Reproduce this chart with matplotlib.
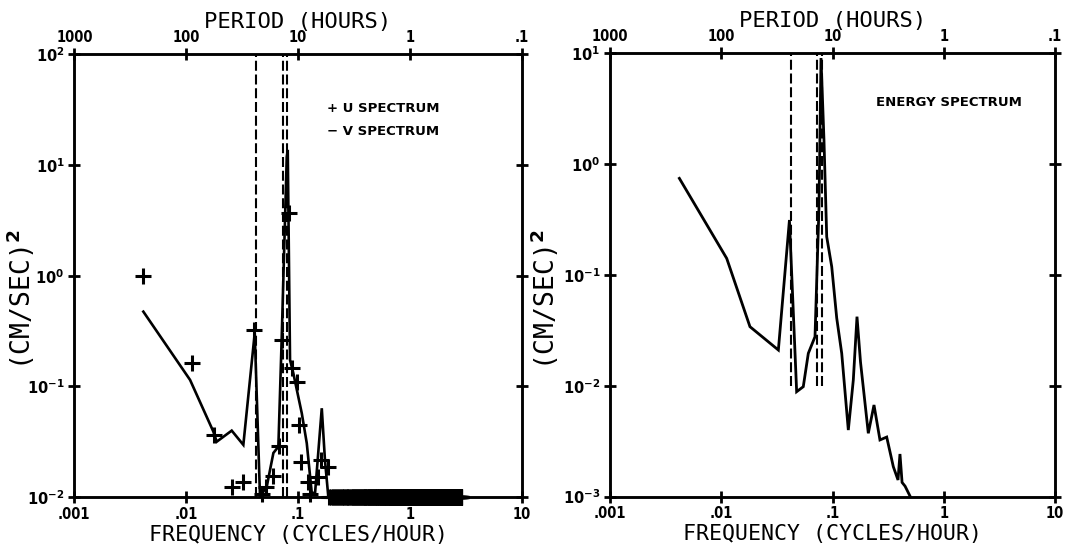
import numpy as np
import matplotlib
matplotlib.use('Agg')
import matplotlib.pyplot as plt
from matplotlib.ticker import NullLocator, FixedLocator, FixedFormatter, FuncFormatter

# ---------------- data ----------------
# Left panel: V spectrum (solid line), frequency in cycles/hour, value in (cm/s)^2
v_freq = [0.00414, 0.01083, 0.01749, 0.01875, 0.02553, 0.03243, 0.0410, 0.0457,
          0.0525, 0.0602, 0.0667, 0.0715, 0.0793, 0.0809, 0.0848, 0.0908, 0.108,
          0.1197, 0.1326, 0.142, 0.163, 0.174, 0.1866, 2.87]
v_spec = [0.473, 0.1143, 0.039, 0.0316, 0.0398, 0.0296, 0.303, 0.0101,
          0.0124, 0.025, 0.0285, 0.281, 11.9, 13.7, 0.173, 0.131, 0.0571,
          0.0306, 0.0109, 0.0109, 0.0634, 0.0216, 0.0100, 0.0100]

# Left panel: U spectrum (plus markers)
u_freq = [0.00414, 0.0112, 0.01785, 0.02553, 0.0320, 0.0405, 0.0480, 0.0514,
          0.0594, 0.0681, 0.0715, 0.0830, 0.0890, 0.0973, 0.1028, 0.1064,
          0.1236, 0.1280, 0.1520, 0.1606, 0.1866]
u_spec = [1.0, 0.162, 0.0364, 0.01227, 0.01377, 0.3234, 0.0107, 0.01227,
          0.0155, 0.029, 0.262, 3.66, 0.146, 0.110, 0.0448, 0.0209,
          0.01377, 0.0107, 0.0153, 0.0216, 0.0188]
# U spectrum estimates sitting on the plot floor (1e-2), uniform frequency grid
u_floor_start, u_floor_stop, u_floor_step = 0.19, 2.88, 0.007
u_floor_level = 0.01

# Right panel: energy spectrum
e_freq = [0.00420, 0.01119, 0.01811, 0.0326, 0.0410, 0.0476, 0.0546, 0.0606,
          0.0696, 0.0756, 0.0788, 0.0838, 0.0887, 0.0984, 0.1091, 0.1210,
          0.1387, 0.1538, 0.166, 0.1785, 0.2098, 0.236, 0.267, 0.307, 0.352,
          0.388, 0.404, 0.422, 0.449, 0.502]
e_spec = [0.744, 0.141, 0.0341, 0.0210, 0.313, 0.00883, 0.0098, 0.0196,
          0.0277, 0.413, 9.07, 1.65, 0.221, 0.1186, 0.0408, 0.0196,
          0.00398, 0.01125, 0.0420, 0.01636, 0.00372, 0.0067, 0.00324, 0.00344,
          0.00186, 0.00141, 0.00242, 0.00134, 0.00124, 0.00099]

# Tidal / inertial reference frequencies (dashed lines)
ref_freq = [0.0421, 0.0730, 0.0800]

freq_ticks = [0.001, 0.01, 0.1, 1, 10]
freq_labels = ['.001', '.01', '.1', '1', '10']
period_ticks = [1000, 100, 10, 1, 0.1]
period_labels = ['1000', '100', '10', '1', '.1']

# ---------------- style ----------------
plt.rcParams['font.family'] = 'DejaVu Sans'
plt.rcParams['mathtext.fontset'] = 'custom'
plt.rcParams['mathtext.rm'] = 'DejaVu Sans:bold'
plt.rcParams['mathtext.it'] = 'DejaVu Sans:bold'
plt.rcParams['mathtext.bf'] = 'DejaVu Sans:bold'
plt.rcParams['mathtext.default'] = 'rm'

LW_AX = 1.8
TICK_FONT = dict(family='DejaVu Sans', weight='bold', size=10.5, stretch='condensed')

fig = plt.figure(figsize=(10.65, 5.47), dpi=100)
fig.patch.set_facecolor('white')

ax_l = fig.add_axes([0.0698, 0.0914, 0.4201, 0.8093])
ax_r = fig.add_axes([0.5728, 0.0923, 0.4178, 0.8102])


def style_axes(ax, ylim):
    ax.set_xscale('log')
    ax.set_yscale('log')
    ax.set_xlim(freq_ticks[0], freq_ticks[-1])
    ax.set_ylim(*ylim)
    ax.xaxis.set_major_locator(FixedLocator(freq_ticks))
    ax.xaxis.set_major_formatter(FixedFormatter(freq_labels))
    ax.xaxis.set_minor_locator(NullLocator())
    lo, hi = int(round(np.log10(ylim[0]))), int(round(np.log10(ylim[1])))
    ax.yaxis.set_major_locator(FixedLocator([10.0 ** k for k in range(lo, hi + 1)]))
    ax.yaxis.set_major_formatter(FuncFormatter(lambda v, p: r'$10^{%d}$' % int(round(np.log10(v)))))
    ax.yaxis.set_minor_locator(NullLocator())
    for s in ax.spines.values():
        s.set_linewidth(LW_AX)
        s.set_color('black')
    ax.tick_params(which='major', direction='inout', length=8, width=2,
                   right=True, top=False, pad=3)
    for lab in ax.get_xticklabels() + ax.get_yticklabels():
        lab.set_fontproperties(matplotlib.font_manager.FontProperties(**TICK_FONT))
    ax.set_xlabel('FREQUENCY (CYCLES/HOUR)', family='DejaVu Sans Mono',
                  fontsize=15.5, labelpad=2)

    top = ax.twiny()
    top.set_xscale('log')
    top.set_xlim(ax.get_xlim())
    top.xaxis.set_major_locator(FixedLocator([1.0 / p for p in period_ticks]))
    top.xaxis.set_major_formatter(FixedFormatter(period_labels))
    top.xaxis.set_minor_locator(NullLocator())
    top.tick_params(which='major', direction='inout', length=8, width=2, pad=3)
    for lab in top.get_xticklabels():
        lab.set_fontproperties(matplotlib.font_manager.FontProperties(**TICK_FONT))
    for s in top.spines.values():
        s.set_linewidth(LW_AX)
    top.set_xlabel('PERIOD (HOURS)', family='DejaVu Sans Mono', fontsize=16, labelpad=1.5)
    return top


style_axes(ax_l, (1e-2, 1e2))
style_axes(ax_r, (1e-3, 1e1))

dash = (0, (4.8, 1.8))
for ax, ytop, xlab in ((ax_l, 1e2, -0.120), (ax_r, 1e1, -0.146)):
    ax.vlines(ref_freq, 1e-2, ytop, colors='black', linewidth=1.5, linestyles=[dash])
    ax.text(xlab, 0.445, '(CM/SEC)$^{2}$', transform=ax.transAxes, rotation=90,
            ha='center', va='center', family='DejaVu Sans Mono', fontsize=19)

# Left panel data
ax_l.plot(v_freq, v_spec, color='black', linewidth=1.9, solid_joinstyle='miter')
ax_l.plot(u_freq, u_spec, linestyle='none', marker='+', markersize=11,
          markeredgewidth=2.2, color='black', clip_on=False)
u_floor_freq = np.arange(u_floor_start, u_floor_stop, u_floor_step)
ax_l.plot(u_floor_freq, np.full(u_floor_freq.shape, u_floor_level), linestyle='none',
          marker='+', markersize=11, markeredgewidth=2.2, color='black', clip_on=False)

LEG_FONT = dict(family='DejaVu Sans', weight='bold', fontsize=9.5)
ax_l.text(0.565, 0.878, '+ U SPECTRUM', transform=ax_l.transAxes, ha='left',
          va='center', **LEG_FONT)
ax_l.text(0.565, 0.826, '\u2212 V SPECTRUM', transform=ax_l.transAxes, ha='left',
          va='center', **LEG_FONT)

# Right panel data
ax_r.plot(e_freq, e_spec, color='black', linewidth=2.0, solid_joinstyle='miter')
ax_r.text(0.598, 0.888, 'ENERGY SPECTRUM', transform=ax_r.transAxes, ha='left',
          va='center', **LEG_FONT)

fig.savefig('out.png', dpi=100, facecolor='white')
